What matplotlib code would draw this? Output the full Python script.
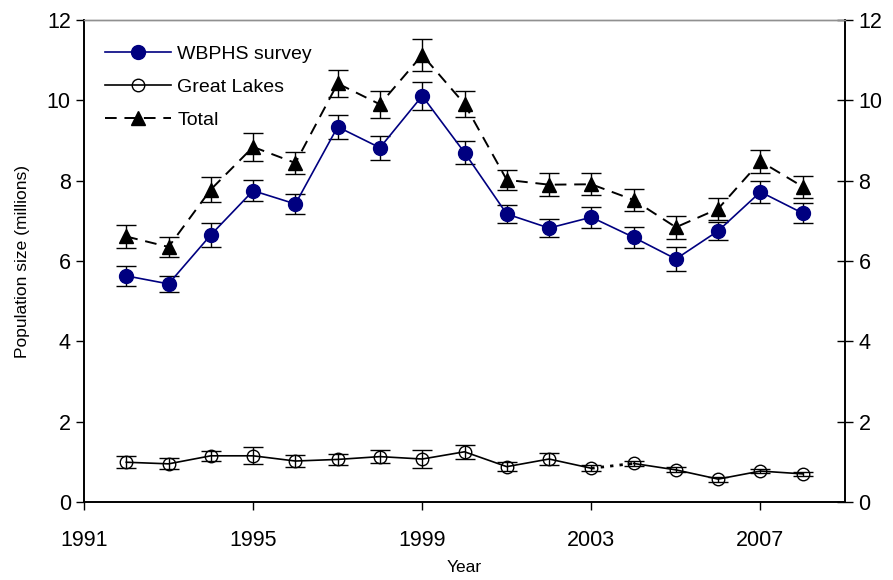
import matplotlib
matplotlib.use("Agg")
import matplotlib.pyplot as plt
from matplotlib.lines import Line2D

plt.rcParams['font.family'] = ['Liberation Sans', 'DejaVu Sans']

years = [1992, 1993, 1994, 1995, 1996, 1997, 1998, 1999, 2000,
         2001, 2002, 2003, 2004, 2005, 2006, 2007, 2008]
wbphs = [5.63, 5.43, 6.65, 7.75, 7.42, 9.34, 8.82, 10.11, 8.70,
         7.17, 6.82, 7.09, 6.59, 6.05, 6.75, 7.72, 7.19]
wbphs_err = [0.25, 0.20, 0.29, 0.26, 0.24, 0.30, 0.30, 0.34, 0.29,
             0.22, 0.23, 0.26, 0.26, 0.29, 0.23, 0.28, 0.25]
great_lakes = [0.99, 0.95, 1.15, 1.15, 1.02, 1.06, 1.13, 1.07, 1.25,
               0.88, 1.07, 0.84, 0.96, 0.80, 0.57, 0.77, 0.70]
great_lakes_err = [0.15, 0.14, 0.13, 0.21, 0.16, 0.14, 0.17, 0.22, 0.18,
                   0.12, 0.14, 0.08, 0.06, 0.06, 0.06, 0.06, 0.05]
total = [6.61, 6.35, 7.78, 8.84, 8.44, 10.42, 9.90, 11.13, 9.91,
         8.02, 7.90, 7.91, 7.52, 6.84, 7.30, 8.48, 7.85]
total_err = [0.28, 0.24, 0.30, 0.34, 0.28, 0.33, 0.33, 0.40, 0.32,
             0.25, 0.28, 0.27, 0.28, 0.28, 0.28, 0.28, 0.27]

x_ticks = [1991, 1995, 1999, 2003, 2007]
y_ticks = [0, 2, 4, 6, 8, 10, 12]
gap_index = 11  # Great Lakes series dotted between 2003 and 2004

navy = '#000080'

fig = plt.figure(figsize=(8.93, 5.80), dpi=100)
ax = fig.add_axes([84/893, 78/580, 761/893, 482/580])

eb_kw = dict(fmt='none', ecolor='black', elinewidth=1.0, capsize=7, capthick=1.0)

# Total
ax.errorbar(years, total, yerr=total_err, zorder=3, **eb_kw)
ax.plot(years, total, color='black', lw=1.4, dashes=(6, 4), marker='^',
        markersize=10, markerfacecolor='black', markeredgecolor='black', zorder=4)

# WBPHS
ax.errorbar(years, wbphs, yerr=wbphs_err, zorder=3, **eb_kw)
ax.plot(years, wbphs, color=navy, lw=1.2, marker='o', markersize=10,
        markerfacecolor=navy, markeredgecolor=navy, zorder=4)

# Great Lakes
ax.errorbar(years, great_lakes, yerr=great_lakes_err, zorder=3, **eb_kw)
ax.plot(years[:gap_index + 1], great_lakes[:gap_index + 1], color='black', lw=1.2,
        marker='o', markersize=9, markerfacecolor='none', markeredgecolor='black', zorder=4)
ax.plot(years[gap_index + 1:], great_lakes[gap_index + 1:], color='black', lw=1.2,
        marker='o', markersize=9, markerfacecolor='none', markeredgecolor='black', zorder=4)
ax.plot(years[gap_index:gap_index + 2], great_lakes[gap_index:gap_index + 2],
        color='black', lw=2.0, linestyle=(0, (1.2, 2.2)), zorder=2)

ax.set_xlim(1991, 2009)
ax.set_ylim(0, 12)
ax.set_xticks(x_ticks)
ax.set_yticks(y_ticks)
ax.tick_params(axis='x', direction='out', length=6, width=1, labelsize=15.5, pad=14)
ax.tick_params(axis='y', direction='out', length=5.5, width=1, labelsize=15.5, pad=4)

ax2 = ax.twinx()
ax2.set_ylim(0, 12)
ax2.set_yticks(y_ticks)
ax2.tick_params(axis='y', direction='inout', length=11.5, width=1, labelsize=15.5, pad=4)

for a in (ax, ax2):
    a.spines['top'].set_color('#909090')
    a.spines['top'].set_linewidth(1.0)
    a.spines['left'].set_linewidth(1.2)
    a.spines['bottom'].set_linewidth(1.2)
    a.spines['right'].set_linewidth(1.2)

ax.set_xlabel('Year', fontsize=12.5, labelpad=7)
ax.set_ylabel('Population size (millions)', fontsize=12.5, labelpad=12)

handles = [
    Line2D([], [], color=navy, lw=1.2, marker='o', markersize=10,
           markerfacecolor=navy, markeredgecolor=navy),
    Line2D([], [], color='black', lw=1.2, marker='o', markersize=9,
           markerfacecolor='none', markeredgecolor='black'),
    Line2D([], [], color='black', lw=1.4, dashes=(6, 4), marker='^', markersize=10,
           markerfacecolor='black', markeredgecolor='black'),
]
ax.legend(handles, ['WBPHS survey', 'Great Lakes', 'Total'], loc='upper left',
          frameon=False, fontsize=14, handlelength=3.4, labelspacing=0.78,
          handletextpad=0.3, borderaxespad=0.3, bbox_to_anchor=(0.01, 0.975))

fig.savefig('out.png', dpi=100)
